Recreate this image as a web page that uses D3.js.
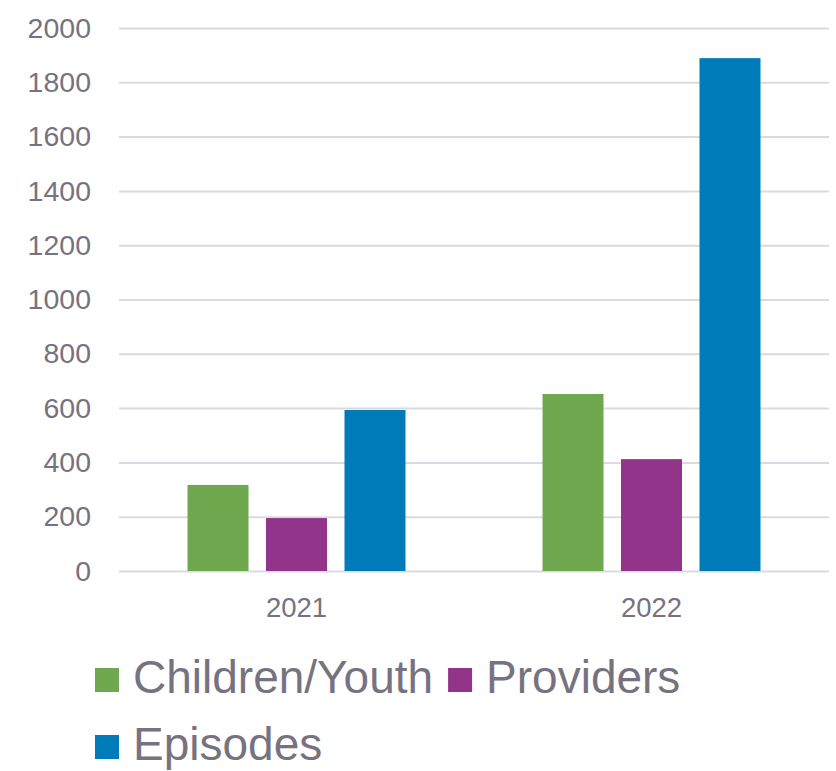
<!DOCTYPE html>
<html>
<head>
<meta charset="utf-8">
<script src="https://cdn.jsdelivr.net/npm/d3@7"></script>
<style>
  html, body { margin: 0; padding: 0; background: #ffffff; }
  svg { display: block; font-family: "Liberation Sans", Arial, sans-serif; }
</style>
</head>
<body>
<svg id="chart" width="836" height="771"></svg>
<script>
// Categories, series and values
const years = ["2021", "2022"];
const seriesNames = ["Children/Youth", "Providers", "Episodes"];
const childrenYouth = [317, 652];
const providers = [195, 412];
const episodes = [593, 1889];
const seriesColors = ["#70a84f", "#92358a", "#007bba"];
const yTicks = [0, 200, 400, 600, 800, 1000, 1200, 1400, 1600, 1800, 2000];

const seriesValues = [childrenYouth, providers, episodes];
const rows = years.map((y, i) => ({
  year: y,
  values: seriesNames.map((s, k) => ({ series: s, value: seriesValues[k][i], color: seriesColors[k] }))
}));

const svg = d3.select("#chart");
const textColor = "#777280";
const plot = { left: 119, right: 829, top: 28, bottom: 571 };

const x0 = d3.scaleBand()
  .domain(years)
  .range([plot.left, plot.right])
  .paddingInner(0.386)
  .paddingOuter(0.193);

const x1 = d3.scaleBand()
  .domain(seriesNames)
  .range([0, x0.bandwidth()])
  .paddingInner(0.223)
  .paddingOuter(0);

const y = d3.scaleLinear()
  .domain([0, 2000])
  .range([plot.bottom, plot.top]);

// Gridlines and y labels
const yAxis = d3.axisLeft(y)
  .tickValues(yTicks)
  .tickSize(-(plot.right - plot.left))
  .tickPadding(28)
  .tickFormat(d3.format("d"));

const gy = svg.append("g")
  .attr("transform", `translate(${plot.left},0)`)
  .call(yAxis);
gy.select(".domain").remove();
gy.selectAll(".tick line").attr("stroke", "#dcdae0").attr("stroke-width", 2);
gy.selectAll(".tick text")
  .attr("fill", textColor)
  .attr("font-size", 28.5)
  .attr("font-family", "Liberation Sans, Arial, sans-serif");

// Bars
const groups = svg.append("g").selectAll("g")
  .data(rows)
  .join("g")
  .attr("transform", d => `translate(${x0(d.year)},0)`);

groups.selectAll("rect")
  .data(d => d.values)
  .join("rect")
  .attr("x", d => x1(d.series))
  .attr("width", x1.bandwidth())
  .attr("y", d => y(d.value))
  .attr("height", d => y(0) - y(d.value))
  .attr("fill", d => d.color);

// X axis labels
const xAxis = d3.axisBottom(x0).tickSize(0).tickPadding(26);
const gx = svg.append("g")
  .attr("transform", `translate(0,${plot.bottom})`)
  .call(xAxis);
gx.select(".domain").remove();
gx.selectAll(".tick text")
  .attr("fill", textColor)
  .attr("font-size", 27.5)
  .attr("font-family", "Liberation Sans, Arial, sans-serif");

// Legend: two rows, items flowing left to right
const legendRows = [[0, 1], [2]];
const legendRowBaselines = [693, 760];
const legend = svg.append("g");
legendRows.forEach((items, r) => {
  let cx = 95;
  items.forEach(k => {
    const base = legendRowBaselines[r];
    legend.append("rect")
      .attr("x", cx)
      .attr("y", base - 25)
      .attr("width", 24)
      .attr("height", 24)
      .attr("fill", seriesColors[k]);
    const t = legend.append("text")
      .attr("x", cx + 38)
      .attr("y", base)
      .attr("fill", textColor)
      .attr("font-size", 46)
      .text(seriesNames[k]);
    cx = cx + 38 + t.node().getComputedTextLength() + 15;
  });
});
</script>
</body>
</html>
